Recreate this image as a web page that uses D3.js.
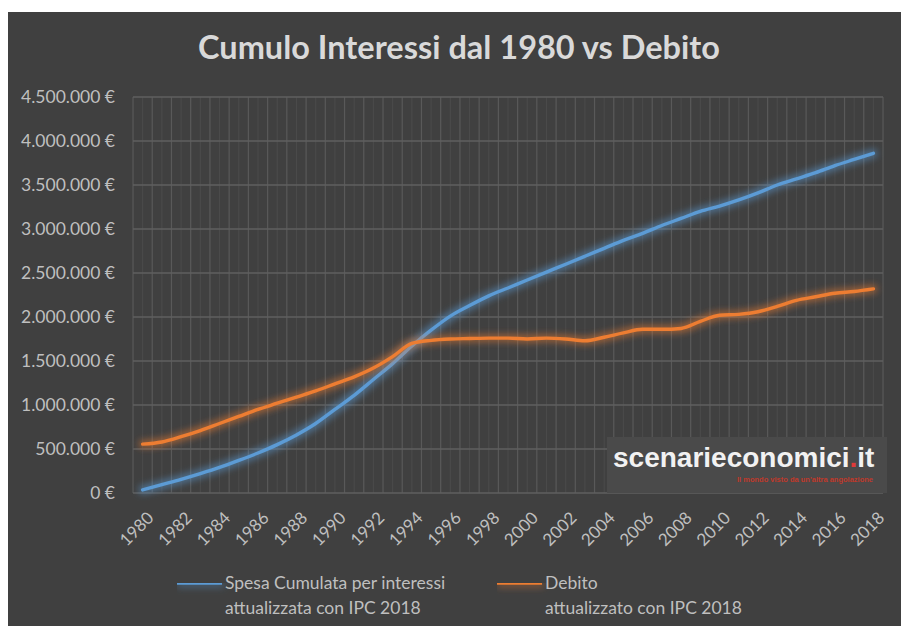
<!DOCTYPE html>
<html>
<head>
<meta charset="utf-8">
<script src="https://cdnjs.cloudflare.com/ajax/libs/d3/7.8.5/d3.min.js"></script>
<style>
    body { margin: 0; background: #ffffff; }
</style>
</head>
<body>
<svg width="901" height="627"></svg>
<script>
// years on the category axis
var years = d3.range(1980, 2019);

// spesa cumulata per interessi, attualizzata con IPC 2018 (euro)
var spesaCumulata = [
    35000, 95000, 155000, 220000, 290000, 370000, 455000, 550000, 660000, 790000,
    950000, 1110000, 1290000, 1470000, 1670000, 1850000, 2010000, 2130000, 2240000, 2330000,
    2420000, 2510000, 2600000, 2690000, 2780000, 2870000, 2950000, 3040000, 3120000, 3200000,
    3260000, 3330000, 3410000, 3500000, 3570000, 3640000, 3720000, 3790000, 3860000
];

// debito attualizzato con IPC 2018 (euro)
var debito = [
    555000, 580000, 640000, 710000, 790000, 870000, 950000, 1020000, 1090000, 1160000,
    1240000, 1320000, 1420000, 1550000, 1700000, 1735000, 1750000, 1755000, 1760000, 1760000,
    1750000, 1760000, 1750000, 1730000, 1770000, 1820000, 1860000, 1860000, 1870000, 1950000,
    2020000, 2030000, 2060000, 2120000, 2190000, 2230000, 2270000, 2290000, 2320000
];

var yTicks = d3.range(0, 4500001, 500000);
var xTickLabels = years.filter(function(d) { return (d - 1980) % 2 == 0; });

var titleText = "Cumulo Interessi dal 1980 vs Debito";
var legendItems = [
    {lines: ["Spesa Cumulata per interessi", "attualizzata con IPC 2018"], color: "#5b9bd5", values: spesaCumulata},
    {lines: ["Debito", "attualizzato con IPC 2018"], color: "#ed7d31", values: debito}
];

var baseFont = "Lato, 'Open Sans', sans-serif";
var svg = d3.select("svg");

// dark chart panel
svg.append("rect")
    .attr("x", 8).attr("y", 12)
    .attr("width", 893).attr("height", 614)
    .attr("fill", "#404040");

var plot = {left: 133, right: 883, top: 97, bottom: 493};

var x = d3.scaleBand()
    .domain(years)
    .range([plot.left, plot.right])
    .padding(0);

var y = d3.scaleLinear()
    .domain([0, 4500000])
    .range([plot.bottom, plot.top]);

function xc(d) { return x(d) + x.bandwidth() / 2; }

// glow like the excel effect (user space so flat lines keep it)
var defs = svg.append("defs");
var glow = defs.append("filter")
    .attr("id", "glow")
    .attr("filterUnits", "userSpaceOnUse")
    .attr("x", 0).attr("y", 0)
    .attr("width", 901).attr("height", 627);
glow.append("feMorphology")
    .attr("in", "SourceGraphic")
    .attr("operator", "dilate")
    .attr("radius", 1.5)
    .attr("result", "thick");
glow.append("feGaussianBlur")
    .attr("in", "thick")
    .attr("stdDeviation", 3.5)
    .attr("result", "blurred");
glow.append("feComponentTransfer")
    .attr("in", "blurred")
    .attr("result", "blur")
    .append("feFuncA")
    .attr("type", "linear")
    .attr("slope", 0.55);
var merge = glow.append("feMerge");
merge.append("feMergeNode").attr("in", "blur");
merge.append("feMergeNode").attr("in", "SourceGraphic");

// minor vertical gridlines (band centres)
svg.append("g")
    .selectAll("line")
    .data(years)
    .enter().append("line")
    .attr("x1", function(d) { return xc(d); })
    .attr("x2", function(d) { return xc(d); })
    .attr("y1", plot.top).attr("y2", plot.bottom)
    .attr("stroke", "#4b4b4b")
    .attr("stroke-width", 1);

// major vertical gridlines (band edges)
var edges = years.map(function(d) { return x(d); }).concat([plot.right]);
svg.append("g")
    .selectAll("line")
    .data(edges)
    .enter().append("line")
    .attr("x1", function(d) { return d; })
    .attr("x2", function(d) { return d; })
    .attr("y1", plot.top).attr("y2", plot.bottom)
    .attr("stroke", "#595959")
    .attr("stroke-width", 1.2);

// horizontal gridlines
svg.append("g")
    .selectAll("line")
    .data(yTicks)
    .enter().append("line")
    .attr("x1", plot.left).attr("x2", plot.right)
    .attr("y1", function(d) { return y(d); })
    .attr("y2", function(d) { return y(d); })
    .attr("stroke", "#5f5f5f")
    .attr("stroke-width", 1.4);

// y axis labels
var fmt = d3.formatLocale({decimal: ",", thousands: ".", grouping: [3], currency: ["", " €"]}).format(",.0f");
svg.append("g")
    .selectAll("text")
    .data(yTicks)
    .enter().append("text")
    .attr("x", 115)
    .attr("y", function(d) { return y(d); })
    .attr("dy", "0.35em")
    .attr("text-anchor", "end")
    .style("font-family", baseFont)
    .style("font-size", "17.5px")
    .attr("fill", "#bfbfbf")
    .text(function(d) { return fmt(d) + " €"; });

// x axis labels, rotated
svg.append("g")
    .selectAll("text")
    .data(xTickLabels)
    .enter().append("text")
    .attr("transform", function(d) { return "translate(" + (xc(d) + 3) + ",510) rotate(-45)"; })
    .attr("dy", "0.75em")
    .attr("text-anchor", "end")
    .style("font-family", baseFont)
    .style("font-size", "17px")
    .attr("fill", "#bfbfbf")
    .text(function(d) { return d; });

// series lines
var line = d3.line()
    .x(function(d, i) { return xc(years[i]); })
    .y(function(d) { return y(d); })
    .curve(d3.curveMonotoneX);

svg.append("g")
    .selectAll("path")
    .data(legendItems)
    .enter().append("path")
    .attr("d", function(d) { return line(d.values); })
    .attr("fill", "none")
    .attr("stroke", function(d) { return d.color; })
    .attr("stroke-width", 3.4)
    .attr("stroke-linecap", "round")
    .attr("stroke-linejoin", "round")
    .attr("filter", "url(#glow)");

// title
svg.append("text")
    .attr("x", 459).attr("y", 59)
    .attr("text-anchor", "middle")
    .style("font-family", baseFont)
    .style("font-size", "32.5px")
    .style("font-weight", 700)
    .attr("fill", "#d9d9d9")
    .text(titleText);

// watermark box
var wm = svg.append("g");
wm.append("rect")
    .attr("x", 607).attr("y", 437)
    .attr("width", 280).attr("height", 56)
    .attr("fill", "#4a4a4a");
var wmText = wm.append("text")
    .attr("x", 613).attr("y", 467)
    .style("font-family", "'Liberation Sans', Arial, sans-serif")
    .style("font-size", "28px")
    .style("font-weight", 700)
    .attr("fill", "#f2f2f2");
wmText.append("tspan").text("scenarieconomici");
wmText.append("tspan").attr("fill", "#e03a3a").text(".");
wmText.append("tspan").text("it");
wm.append("text")
    .attr("x", 873).attr("y", 482)
    .attr("text-anchor", "end")
    .style("font-family", "'Liberation Sans', Arial, sans-serif")
    .style("font-size", "7.5px")
    .style("font-weight", 700)
    .attr("fill", "#c0392b")
    .text("Il mondo visto da un'altra angolazione");

// legend
var legendX = [177, 497];
var lg = svg.append("g")
    .selectAll("g")
    .data(legendItems)
    .enter().append("g")
    .attr("transform", function(d, i) { return "translate(" + legendX[i] + ",583)"; });
lg.append("line")
    .attr("x1", 0).attr("x2", 45)
    .attr("y1", 0).attr("y2", 0)
    .attr("stroke", function(d) { return d.color; })
    .attr("stroke-width", 3.4)
    .attr("filter", "url(#glow)");
lg.each(function(d) {
    var t = d3.select(this).append("text")
        .attr("x", 48).attr("y", 6)
        .style("font-family", baseFont)
        .style("font-size", "17.5px")
        .attr("fill", "#bfbfbf");
    d.lines.forEach(function(s, k) {
        t.append("tspan")
            .attr("x", 48)
            .attr("dy", k == 0 ? 0 : 25)
            .text(s);
    });
});
</script>
</body>
</html>
